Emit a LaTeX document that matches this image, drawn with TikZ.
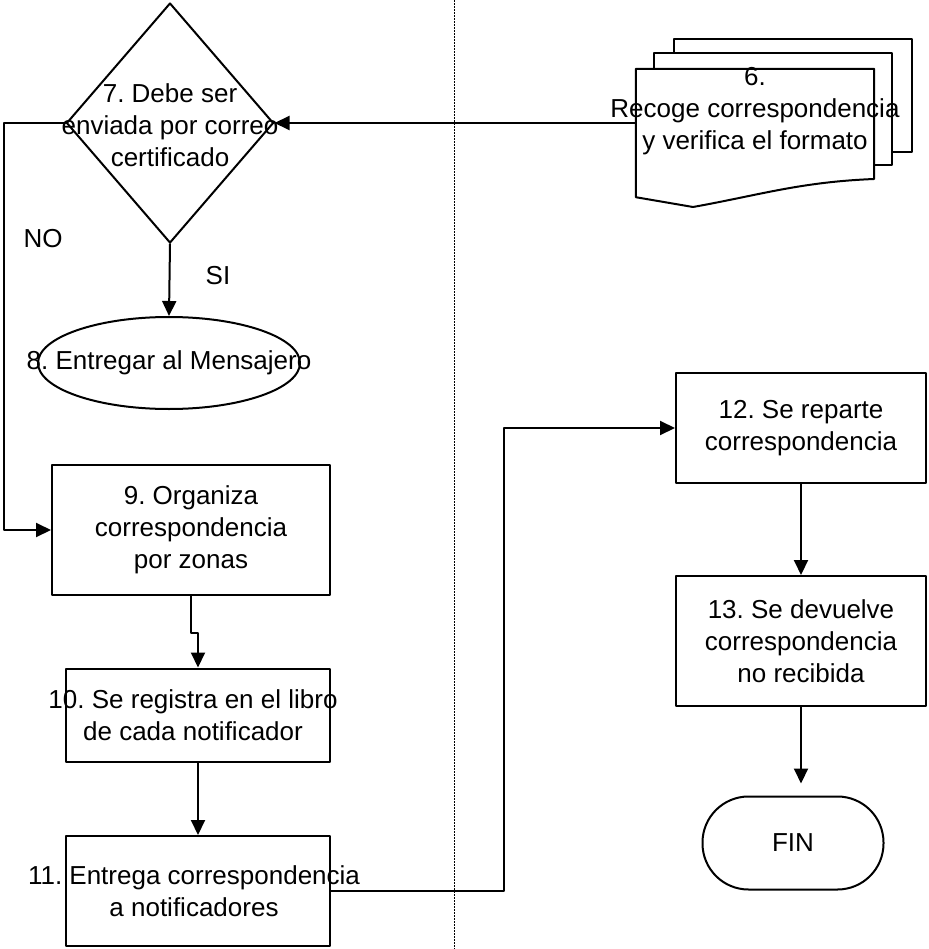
\documentclass[tikz,border=0pt]{standalone}
\usepackage{fontspec}
\setmainfont{Liberation Sans}
\frenchspacing
\usetikzlibrary{arrows.meta,shapes.geometric}

\begin{document}
\begin{tikzpicture}[line cap=round,line join=round,x=1pt,y=-1pt,
		font=\fontsize{26}{32}\selectfont,
		linea/.style={line width=2pt},
		flecha/.style={linea,-{Triangle[length=15pt,width=14pt]}},
		caja/.style={draw,linea,inner sep=0pt,fill=white},
		txt/.style={align=center,inner sep=0pt}]
				\useasboundingbox (0,0) rectangle (928,949);
				% Division
				\draw[line width=0.9pt,line cap=butt,dash pattern=on 2pt off 1pt] (454,0)--(454,949);
				% Etapa 6
				\draw[caja] (674,39) rectangle (912,152);
				\draw[caja] (654,53) rectangle (892,165);
				\node[inner sep=0pt,minimum width=238pt,minimum height=128pt] (d6) at (755,133) {};
				\draw[caja] (d6.north west)--(d6.north east)--(874,179)
					.. controls (800,182) and (760,195) .. (693,207)--(d6.south west)--cycle;
				\node[txt] (t6) at (755,111) {6.\\Recoge correspondencia\\y verifica el formato};
				% Etapa 7
				\node[caja,diamond,minimum width=207pt,minimum height=240pt,
					label={[txt,yshift=-2pt]center:7. Debe ser\\enviada por correo\\certificado}] (q7) at (170,123) {};
				\draw[flecha] (q7.east -| d6.west)--(q7.east);
				\node (no) at (43,239) {NO};
				\node (si) at (218,276) {SI};
				% Etapa 8
				\node[caja,ellipse,minimum width=262pt,minimum height=92pt,
					label={[txt]center:8. Entregar al Mensajero}] (e8) at (169,363) {};
				\draw[flecha] (q7.south)--(e8.north);
				% Etapas 9 a 11
				\node[caja,minimum width=278pt,minimum height=130pt,
					label={[txt]center:9. Organiza\\correspondencia\\por zonas}] (p9) at (191,530) {};
				\node[caja,minimum width=264pt,minimum height=93pt,
					label={[txt,xshift=-5pt]center:10. Se registra en el libro\\de cada notificador}] (p10) at (198,715) {};
				\node[caja,minimum width=264pt,minimum height=110pt,
					label={[txt,xshift=-4pt]center:11. Entrega correspondencia\\a notificadores}] (p11) at (198,891) {};
				\draw[flecha] (q7.west)--++(-62,0)|-(p9.west);
				\draw[flecha] (p9.south)--++(0,37)-|(p10.north);
				\draw[flecha] (p10.south)--(p11.north);
				% Etapas 12 y 13
				\node[caja,minimum width=250pt,minimum height=110pt,
					label={[txt]center:12. Se reparte\\correspondencia}] (p12) at (801,428) {};
				\node[caja,minimum width=250pt,minimum height=130pt,
					label={[txt]center:13. Se devuelve\\correspondencia\\no recibida}] (p13) at (801,641) {};
				\node[caja,rounded corners=46pt,minimum width=181pt,minimum height=93pt] (fin) at (793,843) {FIN};
				\draw[flecha] (p11.east)--++(173,0)|-(p12.west);
				\draw[flecha] (p12.south)--(p13.north);
				\draw[flecha,shorten >=12pt] (p13.south)--(p13.south |- fin.north);
		\end{tikzpicture}
\end{document}
